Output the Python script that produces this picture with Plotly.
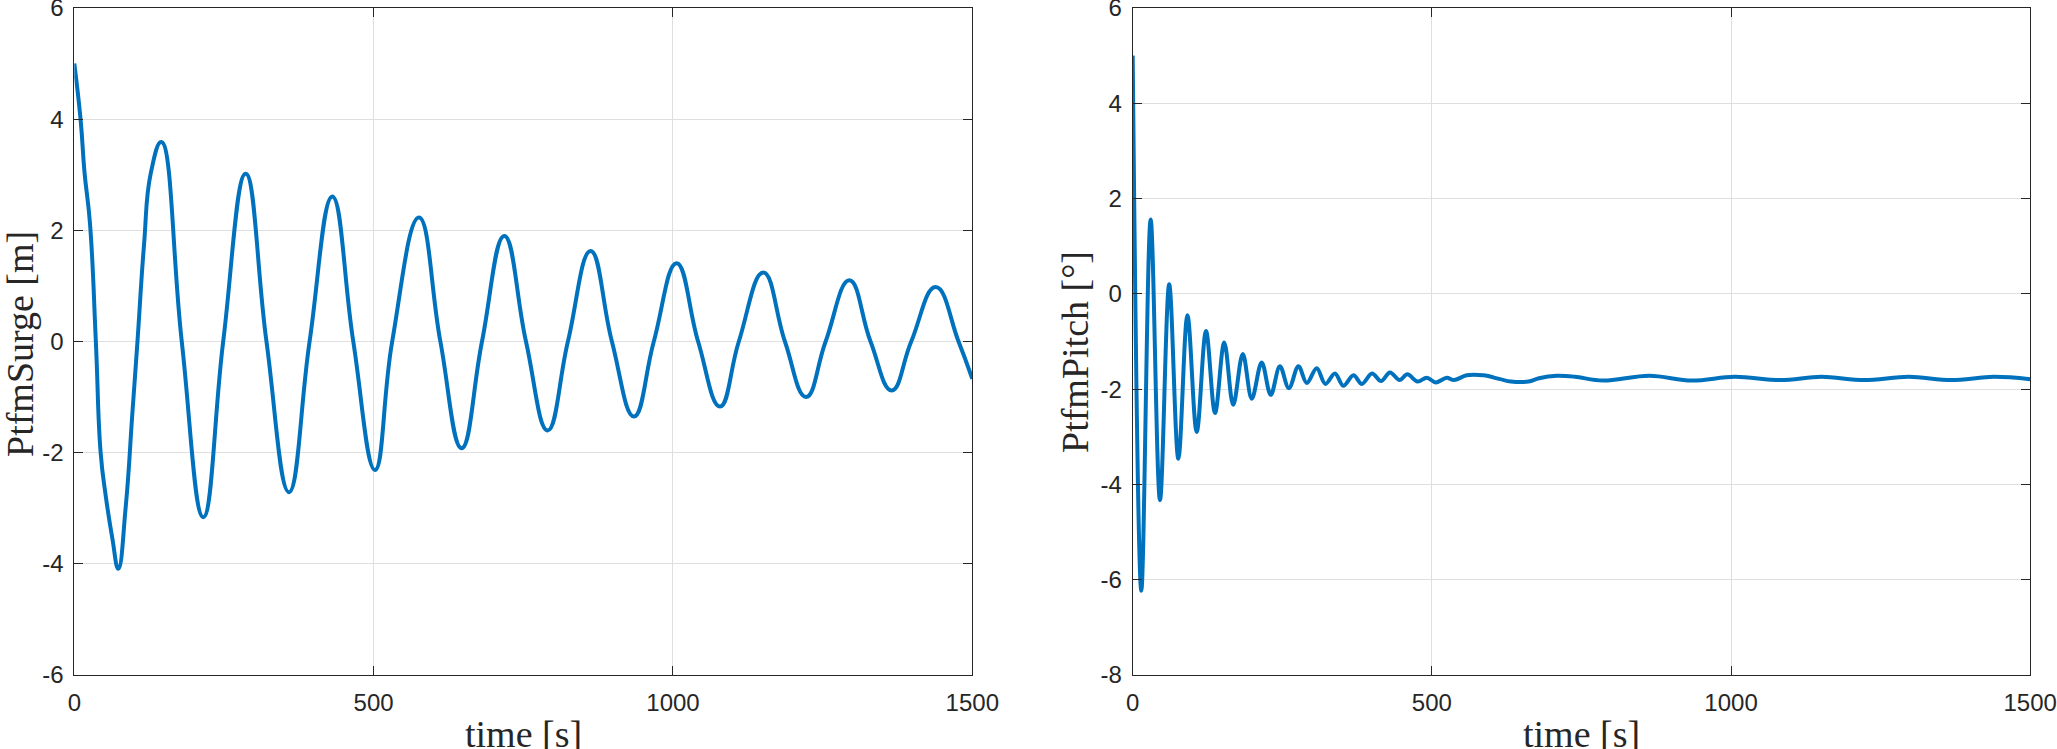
"""Platform surge and pitch free-decay time series, MATLAB-style two-panel figure."""

import plotly.graph_objects as go

BLUE = "#0072BD"
AXIS = "#262626"
GRID = "#dfdfdf"

# surge [m] vs time [s]: first swing read in detail, then peaks, troughs and zero crossings
surge_t = [0, 10.6, 17, 26.2, 36, 44, 52.4, 63.5, 73.5, 86, 97, 105.5, 116.4, 127.6,
           145.4, 179.5, 215.5, 248.7, 286.3, 321, 358.6, 393, 431, 466, 502.3, 531,
           575.7, 611.5, 647, 681, 718.3, 754.5, 790.7, 824.5, 862.5, 898, 934.9, 968,
           1006.2, 1042, 1078.6, 1110, 1151, 1187, 1222.3, 1255, 1294.7, 1330, 1365.4,
           1398, 1438.9, 1477, 1500]
surge_m = [5.0, 3.98, 3.05, 2.12, 0.0, -2.0, -2.77, -3.54, -4.09, -2.96, -1.29, 0.0,
           1.73, 3.02, 3.59, 0.0, -3.16, 0.0, 3.02, 0.0, -2.71, 0.0, 2.61, 0.0, -2.31,
           0.0, 2.23, 0.0, -1.92, 0.0, 1.90, 0.0, -1.60, 0.0, 1.63, 0.0, -1.35, 0.0,
           1.41, 0.0, -1.17, 0.0, 1.24, 0.0, -1.00, 0.0, 1.10, 0.0, -0.88, 0.0, 0.98,
           0.0, -0.67]

# pitch [deg] vs time [s], peaks and troughs
pitch_t = [0, 14.4, 30, 45.6, 61, 76.3, 91.5, 107, 122.5, 137.6, 153, 168, 184, 199,
           215.6, 230.7, 246, 261, 277, 291, 307.5, 322, 338, 352, 369, 383, 400, 415,
           430, 446, 459, 476, 491.5, 506.5, 525, 537, 558, 586, 614, 632, 661.5, 679,
           709, 739, 786, 863.5, 934.6, 1006, 1083, 1151, 1222.5, 1297, 1368, 1439.5,
           1500]
pitch_deg = [5.0, -6.23, 1.56, -4.33, 0.2, -3.46, -0.45, -2.9, -0.78, -2.5, -1.02,
             -2.33, -1.26, -2.2, -1.44, -2.12, -1.52, -1.98, -1.52, -1.87, -1.56,
             -1.89, -1.67, -1.93, -1.71, -1.89, -1.67, -1.83, -1.65, -1.81, -1.69,
             -1.84, -1.76, -1.86, -1.76, -1.81, -1.71, -1.71, -1.79, -1.84, -1.84,
             -1.77, -1.72, -1.74, -1.82, -1.72, -1.82, -1.74, -1.81, -1.74, -1.81,
             -1.74, -1.81, -1.74, -1.79]

time_ticks = [0, 500, 1000, 1500]
surge_ticks = [-6, -4, -2, 0, 2, 4, 6]
pitch_ticks = [-8, -6, -4, -2, 0, 2, 4, 6]

W, H = 2057, 749


def axis_style(**kw):
    d = dict(
        showline=True, linecolor=AXIS, linewidth=1, mirror="ticks",
        ticks="inside", ticklen=9, tickcolor=AXIS, tickwidth=1,
        showgrid=True, gridcolor=GRID, gridwidth=1, zeroline=False,
        automargin=False, ticklabeloverflow="allow",
        tickfont=dict(family="Liberation Sans, Arial", size=24, color=AXIS),
    )
    d.update(kw)
    return d


fig = go.Figure()
fig.add_scatter(x=surge_t, y=surge_m, mode="lines", xaxis="x", yaxis="y",
                line=dict(color=BLUE, width=4, shape="spline", smoothing=1.3))
fig.add_scatter(x=pitch_t, y=pitch_deg, mode="lines", xaxis="x2", yaxis="y2",
                line=dict(color=BLUE, width=4, shape="spline", smoothing=1.0))

ydom = [1 - 675 / H, 1 - 8 / H]
fig.update_layout(
    width=W, height=H,
    margin=dict(l=0, r=0, t=0, b=0, autoexpand=False),
    paper_bgcolor="white", plot_bgcolor="white",
    showlegend=False,
    xaxis=axis_style(domain=[74.3 / W, 972.3 / W], range=[0, 1500], anchor="y",
                     tickvals=time_ticks, ticktext=[str(v) for v in time_ticks],
                     ticklabelstandoff=6),
    yaxis=axis_style(domain=ydom, range=[-6, 6], anchor="x",
                     tickvals=surge_ticks, ticktext=[str(v) for v in surge_ticks],
                     ticklabelstandoff=5),
    xaxis2=axis_style(domain=[1132.7 / W, 2030.2 / W], range=[0, 1500], anchor="y2",
                      tickvals=time_ticks, ticktext=[str(v) for v in time_ticks],
                      ticklabelstandoff=6),
    yaxis2=axis_style(domain=ydom, range=[-8, 6], anchor="x2",
                      tickvals=pitch_ticks, ticktext=[str(v) for v in pitch_ticks],
                      ticklabelstandoff=5),
)

title_font = dict(family="Liberation Serif, Times New Roman, serif", size=38, color=AXIS)
fig.add_annotation(text="time [s]", xref="paper", yref="paper", x=523 / W, y=1 - 734 / H,
                   xanchor="center", yanchor="middle", showarrow=False, font=title_font)
fig.add_annotation(text="time [s]", xref="paper", yref="paper", x=1581 / W, y=1 - 734 / H,
                   xanchor="center", yanchor="middle", showarrow=False, font=title_font)
fig.add_annotation(text="PtfmSurge [m]", xref="paper", yref="paper", x=20 / W, y=1 - 344 / H,
                   xanchor="center", yanchor="middle", textangle=-90, showarrow=False,
                   font=title_font)
fig.add_annotation(text="PtfmPitch [°]", xref="paper", yref="paper", x=1075 / W, y=1 - 352 / H,
                   xanchor="center", yanchor="middle", textangle=-90, showarrow=False,
                   font=title_font)

# the page body has a default 8px margin; drop it so the figure sits at the window's corner
fig.write_html("out.html", config={"displayModeBar": False},
               post_script="document.body.style.margin = '0';")
